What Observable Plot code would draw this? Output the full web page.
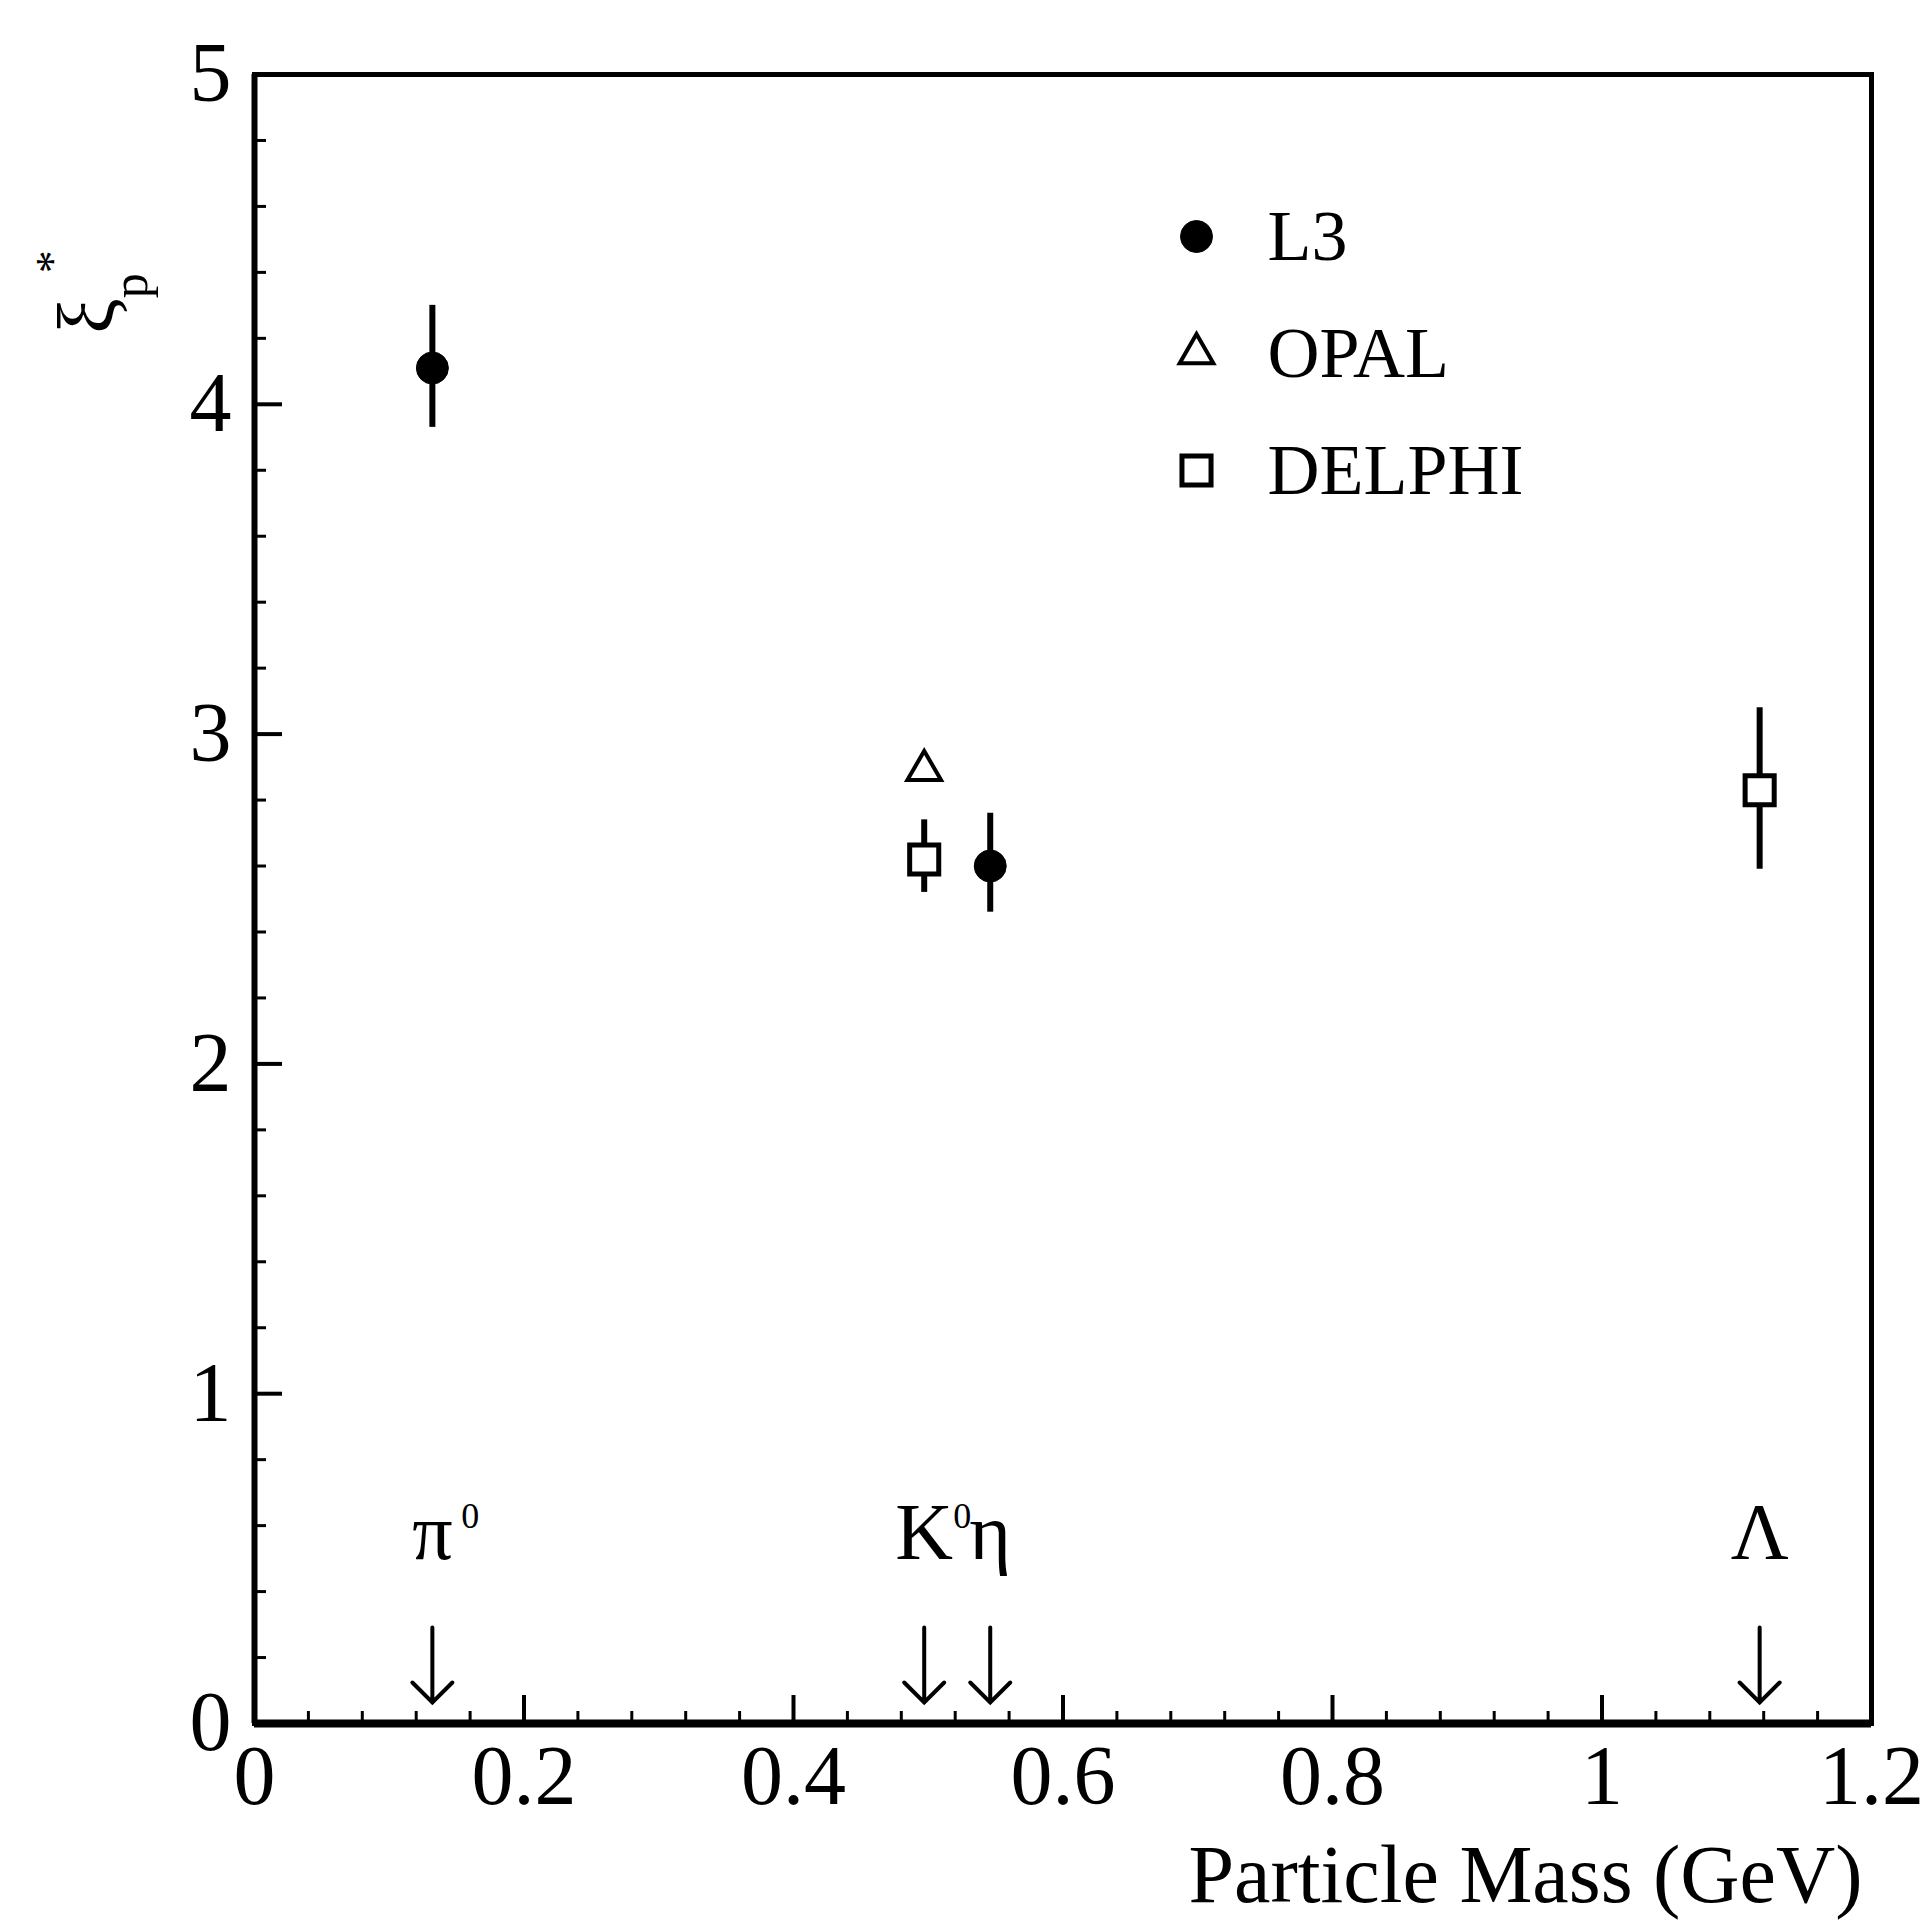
<!DOCTYPE html>
<html><head><meta charset="utf-8">
<script src="https://cdn.jsdelivr.net/npm/d3@7"></script>
<script src="https://cdn.jsdelivr.net/npm/@observablehq/plot@0.6"></script>
<style>
html,body{margin:0;padding:0;background:#fff;}
#chart svg{display:block;}
</style></head><body><div id="chart"></div>
<script>
// ---- data ----
const experiments = ["L3", "OPAL", "DELPHI"];
const pointExperiment = ["L3", "L3", "OPAL", "DELPHI", "DELPHI"];
const pointMass = [0.132, 0.546, 0.497, 0.497, 1.117];
const pointXi = [4.11, 2.60, 2.89, 2.62, 2.83];
const pointErrLow = [3.93, 2.46, null, 2.52, 2.59];
const pointErrHigh = [4.30, 2.76, null, 2.74, 3.08];

const particleSymbols = ["π", "K", "η", "Λ"];
const particleSuperscripts = ["0", "0", "", ""];
const particleMass = [0.132, 0.497, 0.546, 1.117];

const xMajorTicks = [0, 0.2, 0.4, 0.6, 0.8, 1, 1.2];
const xTickLabels = ["0", "0.2", "0.4", "0.6", "0.8", "1", "1.2"];
const yMajorTicks = [0, 1, 2, 3, 4, 5];
const yTickLabels = ["0", "1", "2", "3", "4", "5"];
const xMinorTicks = d3.range(1, 30).filter(k => k % 5 !== 0).map(k => +(k * 0.04).toFixed(2));
const yMinorTicks = d3.range(1, 25).filter(k => k % 5 !== 0).map(k => +(k * 0.2).toFixed(1));
const xAxisTitle = "Particle Mass (GeV)";

// ---- tables ----
const points = pointMass.map((m, i) => ({
  experiment: pointExperiment[i], mass: m, xi: pointXi[i], lo: pointErrLow[i], hi: pointErrHigh[i]
}));
const particles = particleMass.map((m, i) => ({mass: m, symbol: particleSymbols[i], sup: particleSuperscripts[i]}));

// ---- styles / layout ----
const FONT = "Liberation Serif, 'Times New Roman', serif";
const W = 1926, H = 1927;
const M = {left: 254, right: 55, top: 74, bottom: 204};
const markerStyle = {
  L3: {symbol: "circle", r: 16, fill: "black", stroke: "black", strokeWidth: 1},
  OPAL: {symbol: "triangle", r: 12.5, fill: "white", stroke: "black", strokeWidth: 4},
  DELPHI: {symbol: "square", r: 16.4, fill: "white", stroke: "black", strokeWidth: 5}
};
const ARROW_WING = 20;
const downArrowShape = {
  draw(context, l) {
    context.moveTo(0, 0);
    context.lineTo(0, -l);
    context.moveTo(-ARROW_WING, ARROW_WING - l);
    context.lineTo(0, -l);
    context.lineTo(ARROW_WING, ARROW_WING - l);
  }
};

const marks = [];
// axes: inward ticks
marks.push(Plot.axisX(xMinorTicks, {anchor: "bottom", tickSize: -12, tickFormat: () => "", strokeWidth: 3, label: null}));
marks.push(Plot.axisY(yMinorTicks, {anchor: "left", tickSize: -12, tickFormat: () => "", strokeWidth: 3, label: null}));
marks.push(Plot.axisX(xMajorTicks, {anchor: "bottom", tickSize: -28, tickPadding: 49, strokeWidth: 4,
  tickFormat: d => xTickLabels[xMajorTicks.indexOf(d)], fontSize: 84, fontFamily: FONT, label: null}));
marks.push(Plot.axisY(yMajorTicks, {anchor: "left", tickSize: -28, tickPadding: 51, strokeWidth: 4,
  tickFormat: d => yTickLabels[yMajorTicks.indexOf(d)], fontSize: 84, fontFamily: FONT, label: null}));
// frame
marks.push(Plot.frame({stroke: "black", strokeWidth: 5}));
marks.push(Plot.ruleY([0], {stroke: "black", strokeWidth: 8}));
marks.push(Plot.ruleX([0], {stroke: "black", strokeWidth: 6}));

// error bars
marks.push(Plot.ruleX(points.filter(d => d.lo != null), {x: "mass", y1: "lo", y2: "hi", stroke: "black", strokeWidth: 6}));
// points
for (const e of experiments) {
  marks.push(Plot.dot(points.filter(d => d.experiment === e), {x: "mass", y: "xi", ...markerStyle[e]}));
}

// particle arrows and labels
marks.push(Plot.vector(particles, {x: "mass", frameAnchor: "bottom", length: 75, rotate: 180, anchor: "end",
  dy: -21, shape: downArrowShape, stroke: "black", strokeWidth: 4, strokeLinejoin: "miter"}));
marks.push(Plot.text(particles, {x: "mass", text: "symbol", frameAnchor: "bottom", dy: -165, lineAnchor: "bottom",
  textAnchor: "middle", fontSize: 80, fontFamily: FONT, fill: "black"}));
marks.push(Plot.text(particles.filter(d => d.sup), {x: "mass", text: "sup", frameAnchor: "bottom", dx: 29, dy: -196,
  lineAnchor: "bottom", textAnchor: "start", fontSize: 36, fontFamily: FONT, fill: "black"}));

// legend inside frame
const legendDx = 942, legendTextDx = 1013, legendTop = 162, legendGap = 117;
experiments.forEach((e, i) => {
  marks.push(Plot.dot([e], {frameAnchor: "top-left", dx: legendDx, dy: legendTop + i * legendGap, ...markerStyle[e]}));
  marks.push(Plot.text([e], {frameAnchor: "top-left", dx: legendTextDx, dy: legendTop + i * legendGap, text: d => d,
    textAnchor: "start", lineAnchor: "middle", fontSize: 72, fontFamily: FONT, fill: "black"}));
});

// x axis title
marks.push(Plot.text([xAxisTitle], {frameAnchor: "bottom-right", dx: -9, dy: 178, text: d => d,
  textAnchor: "end", lineAnchor: "bottom", fontSize: 82, fontFamily: FONT, fill: "black"}));

const chart = Plot.plot({
  width: W, height: H,
  marginLeft: M.left, marginRight: M.right, marginTop: M.top, marginBottom: M.bottom,
  x: {domain: [0, 1.2]},
  y: {domain: [0, 5]},
  style: {fontFamily: FONT, background: "white", color: "black"},
  marks
});

// y axis title: ξ*_p rotated
const lab = d3.select(chart).append("text")
  .attr("transform", "translate(114,292) rotate(-90)")
  .attr("font-family", FONT).attr("fill", "black");
lab.append("tspan").attr("font-size", 80).text("ξ");
lab.append("tspan").attr("font-size", 50).attr("dy", 33).text("p");
lab.append("tspan").attr("font-size", 46).attr("dy", -79).attr("dx", 0).text("*");

document.getElementById("chart").appendChild(chart);
</script></body></html>
